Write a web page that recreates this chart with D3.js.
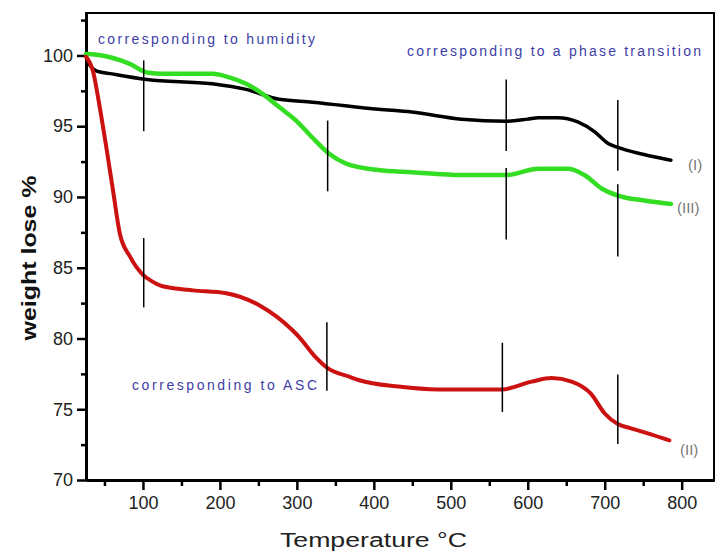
<!DOCTYPE html>
<html>
  <head>
    <title>TGA curves</title>
    <script src="https://d3js.org/d3.v7.min.js"></script>
    <style type="text/css">
body {
  margin: 0;
  background: #fff;
  font-family: Arial, "Liberation Sans", sans-serif;
}
path.curve {
  fill: none;
  stroke-linejoin: round;
  stroke-linecap: round;
}
line.marker {
  stroke: #000;
  stroke-width: 1.5px;
}
text.note {
  fill: #3d3da6;
  font-size: 14px;
}
text.series {
  fill: #777;
  font-size: 15px;
}
    </style>
  </head>
  <body>
    <script type="text/javascript">

var width = 719,
    height = 554,
    mLeft = 86, mRight = 714,   // plot frame
    mTop = 13, mBottom = 480;

// temperature (°C) / weight (%)
var tempI   = [26, 30, 40, 60, 105, 190, 234, 277, 320, 406, 449, 514, 572, 600, 614, 639, 665, 687, 704, 717, 751, 786];
var weightI = [100, 99.4, 98.9, 98.7, 98.3, 98.0, 97.6, 96.9, 96.7, 96.2, 96.0, 95.5, 95.35, 95.5, 95.6, 95.6, 95.3, 94.6, 93.8, 93.5, 93.0, 92.6];

var tempII   = [26, 35, 44, 53, 61, 70, 83, 100, 113, 122, 148, 165, 208, 251, 294, 303, 324, 340, 368, 381, 432, 484, 566, 605, 631, 657, 682, 700, 717, 734, 756, 784];
var weightII = [99.9, 98.9, 96.3, 93.3, 90.5, 87.4, 85.8, 84.5, 84.0, 83.75, 83.5, 83.4, 83.2, 82.35, 80.6, 80.1, 78.7, 77.9, 77.3, 77.05, 76.6, 76.4, 76.4, 76.95, 77.2, 76.95, 76.1, 74.7, 73.95, 73.65, 73.3, 72.8];

var tempIII   = [26, 40, 83, 105, 126, 190, 212, 234, 255, 277, 299, 320, 342, 364, 406, 449, 514, 572, 614, 653, 675, 696, 717, 751, 786];
var weightIII = [100.1, 100.05, 99.4, 98.8, 98.7, 98.7, 98.45, 98.0, 97.3, 96.35, 95.4, 94.2, 93.05, 92.35, 91.9, 91.75, 91.55, 91.55, 92.0, 92.0, 91.5, 90.6, 90.1, 89.75, 89.5];

// vertical marker segments: temperature, low and high weight
var markT  = [101, 101, 340, 339, 572, 572, 567, 717, 717, 717];
var markLo = [94.65, 82.2, 90.4, 76.3, 93.25, 87.0, 74.8, 91.85, 85.8, 72.55];
var markHi = [99.65, 87.1, 95.4, 81.15, 98.3, 92.05, 79.7, 96.85, 90.9, 77.45];

var xTicks = [100, 200, 300, 400, 500, 600, 700, 800];
var xMinor = [50, 150, 250, 350, 450, 550, 650, 750];
var yTicks = [70, 75, 80, 85, 90, 95, 100];
var yMinor = [72.5, 77.5, 82.5, 87.5, 92.5, 97.5, 102.5];

var notes = ["corresponding to humidity", "corresponding to a phase transition", "corresponding to ASC"];
var seriesNames = ["(I)", "(II)", "(III)"];

var x = d3.scaleLinear().domain([26, 842]).range([mLeft, mRight]);
var y = d3.scaleLinear().domain([70, 103]).range([mBottom, mTop]);

var svg = d3.select("body").append("svg")
    .attr("width", width)
    .attr("height", height);

function zip(t, w) {
  return t.map(function(d, i) { return [d, w[i]]; });
}

var line = d3.line()
    .x(function(d) { return x(d[0]); })
    .y(function(d) { return y(d[1]); })
    .curve(d3.curveMonotoneX);

// frame (top and right are thinner than the axes)
svg.append("rect")
    .attr("x", mLeft).attr("y", mTop)
    .attr("width", mRight - mLeft).attr("height", mBottom - mTop)
    .attr("fill", "none")
    .attr("stroke", "#000")
    .attr("stroke-width", 2);

// axes
svg.append("g")
    .attr("transform", "translate(0," + mBottom + ")")
    .call(d3.axisBottom(x).tickValues(xTicks).tickSize(10).tickSizeOuter(0).tickPadding(6));
svg.append("g")
    .attr("transform", "translate(0," + mBottom + ")")
    .call(d3.axisBottom(x).tickValues(xMinor).tickSize(6).tickSizeOuter(0).tickFormat(""));

svg.append("g")
    .attr("transform", "translate(" + mLeft + ",0)")
    .call(d3.axisLeft(y).tickValues(yTicks).tickSize(9).tickSizeOuter(0).tickPadding(4));
svg.append("g")
    .attr("transform", "translate(" + mLeft + ",0)")
    .call(d3.axisLeft(y).tickValues(yMinor).tickSize(5).tickSizeOuter(0).tickFormat(""));

svg.selectAll(".domain").attr("stroke", "#000").attr("stroke-width", 3);
svg.selectAll(".tick line").attr("stroke", "#000").attr("stroke-width", 2.5);
svg.selectAll(".tick text")
    .attr("fill", "#222")
    .style("font-family", "Arial, 'Liberation Sans', sans-serif")
    .style("font-size", "18px");

// axis titles
svg.append("text")
    .attr("x", 280).attr("y", 547)
    .attr("textLength", 187)
    .attr("lengthAdjust", "spacingAndGlyphs")
    .attr("fill", "#222")
    .style("font-size", "20px")
    .text("Temperature °C");

svg.append("text")
    .attr("transform", "translate(36,258) rotate(-90)")
    .attr("text-anchor", "middle")
    .attr("textLength", 165)
    .attr("lengthAdjust", "spacingAndGlyphs")
    .attr("fill", "#111")
    .style("font-size", "21px")
    .style("font-weight", "bold")
    .text("weight lose %");

// curves
var curves = [
  {data: zip(tempI, weightI), color: "#000", w: 3.5},
  {data: zip(tempIII, weightIII), color: "#33dd22", w: 4.5},
  {data: zip(tempII, weightII), color: "#cc1111", w: 4}
];
svg.selectAll("path.curve")
    .data(curves)
    .enter().append("path")
    .attr("class", "curve")
    .attr("d", function(d) { return line(d.data); })
    .attr("stroke", function(d) { return d.color; })
    .attr("stroke-width", function(d) { return d.w; });

// vertical markers
svg.selectAll("line.marker")
    .data(markT)
    .enter().append("line")
    .attr("class", "marker")
    .attr("x1", function(d) { return x(d); })
    .attr("x2", function(d) { return x(d); })
    .attr("y1", function(d, i) { return y(markHi[i]); })
    .attr("y2", function(d, i) { return y(markLo[i]); });

// notes
var notePos = [[98, 44, 217], [407, 56, 294], [132, 390, 185]];
svg.selectAll("text.note")
    .data(notes)
    .enter().append("text")
    .attr("class", "note")
    .attr("x", function(d, i) { return notePos[i][0]; })
    .attr("y", function(d, i) { return notePos[i][1]; })
    .attr("textLength", function(d, i) { return notePos[i][2]; })
    .attr("lengthAdjust", "spacing")
    .text(function(d) { return d; });

// series labels
var labelPos = [[688, 170], [680, 455], [677, 213]];
svg.selectAll("text.series")
    .data(seriesNames)
    .enter().append("text")
    .attr("class", "series")
    .attr("x", function(d, i) { return labelPos[i][0]; })
    .attr("y", function(d, i) { return labelPos[i][1]; })
    .text(function(d) { return d; });

    </script>
  </body>
</html>
